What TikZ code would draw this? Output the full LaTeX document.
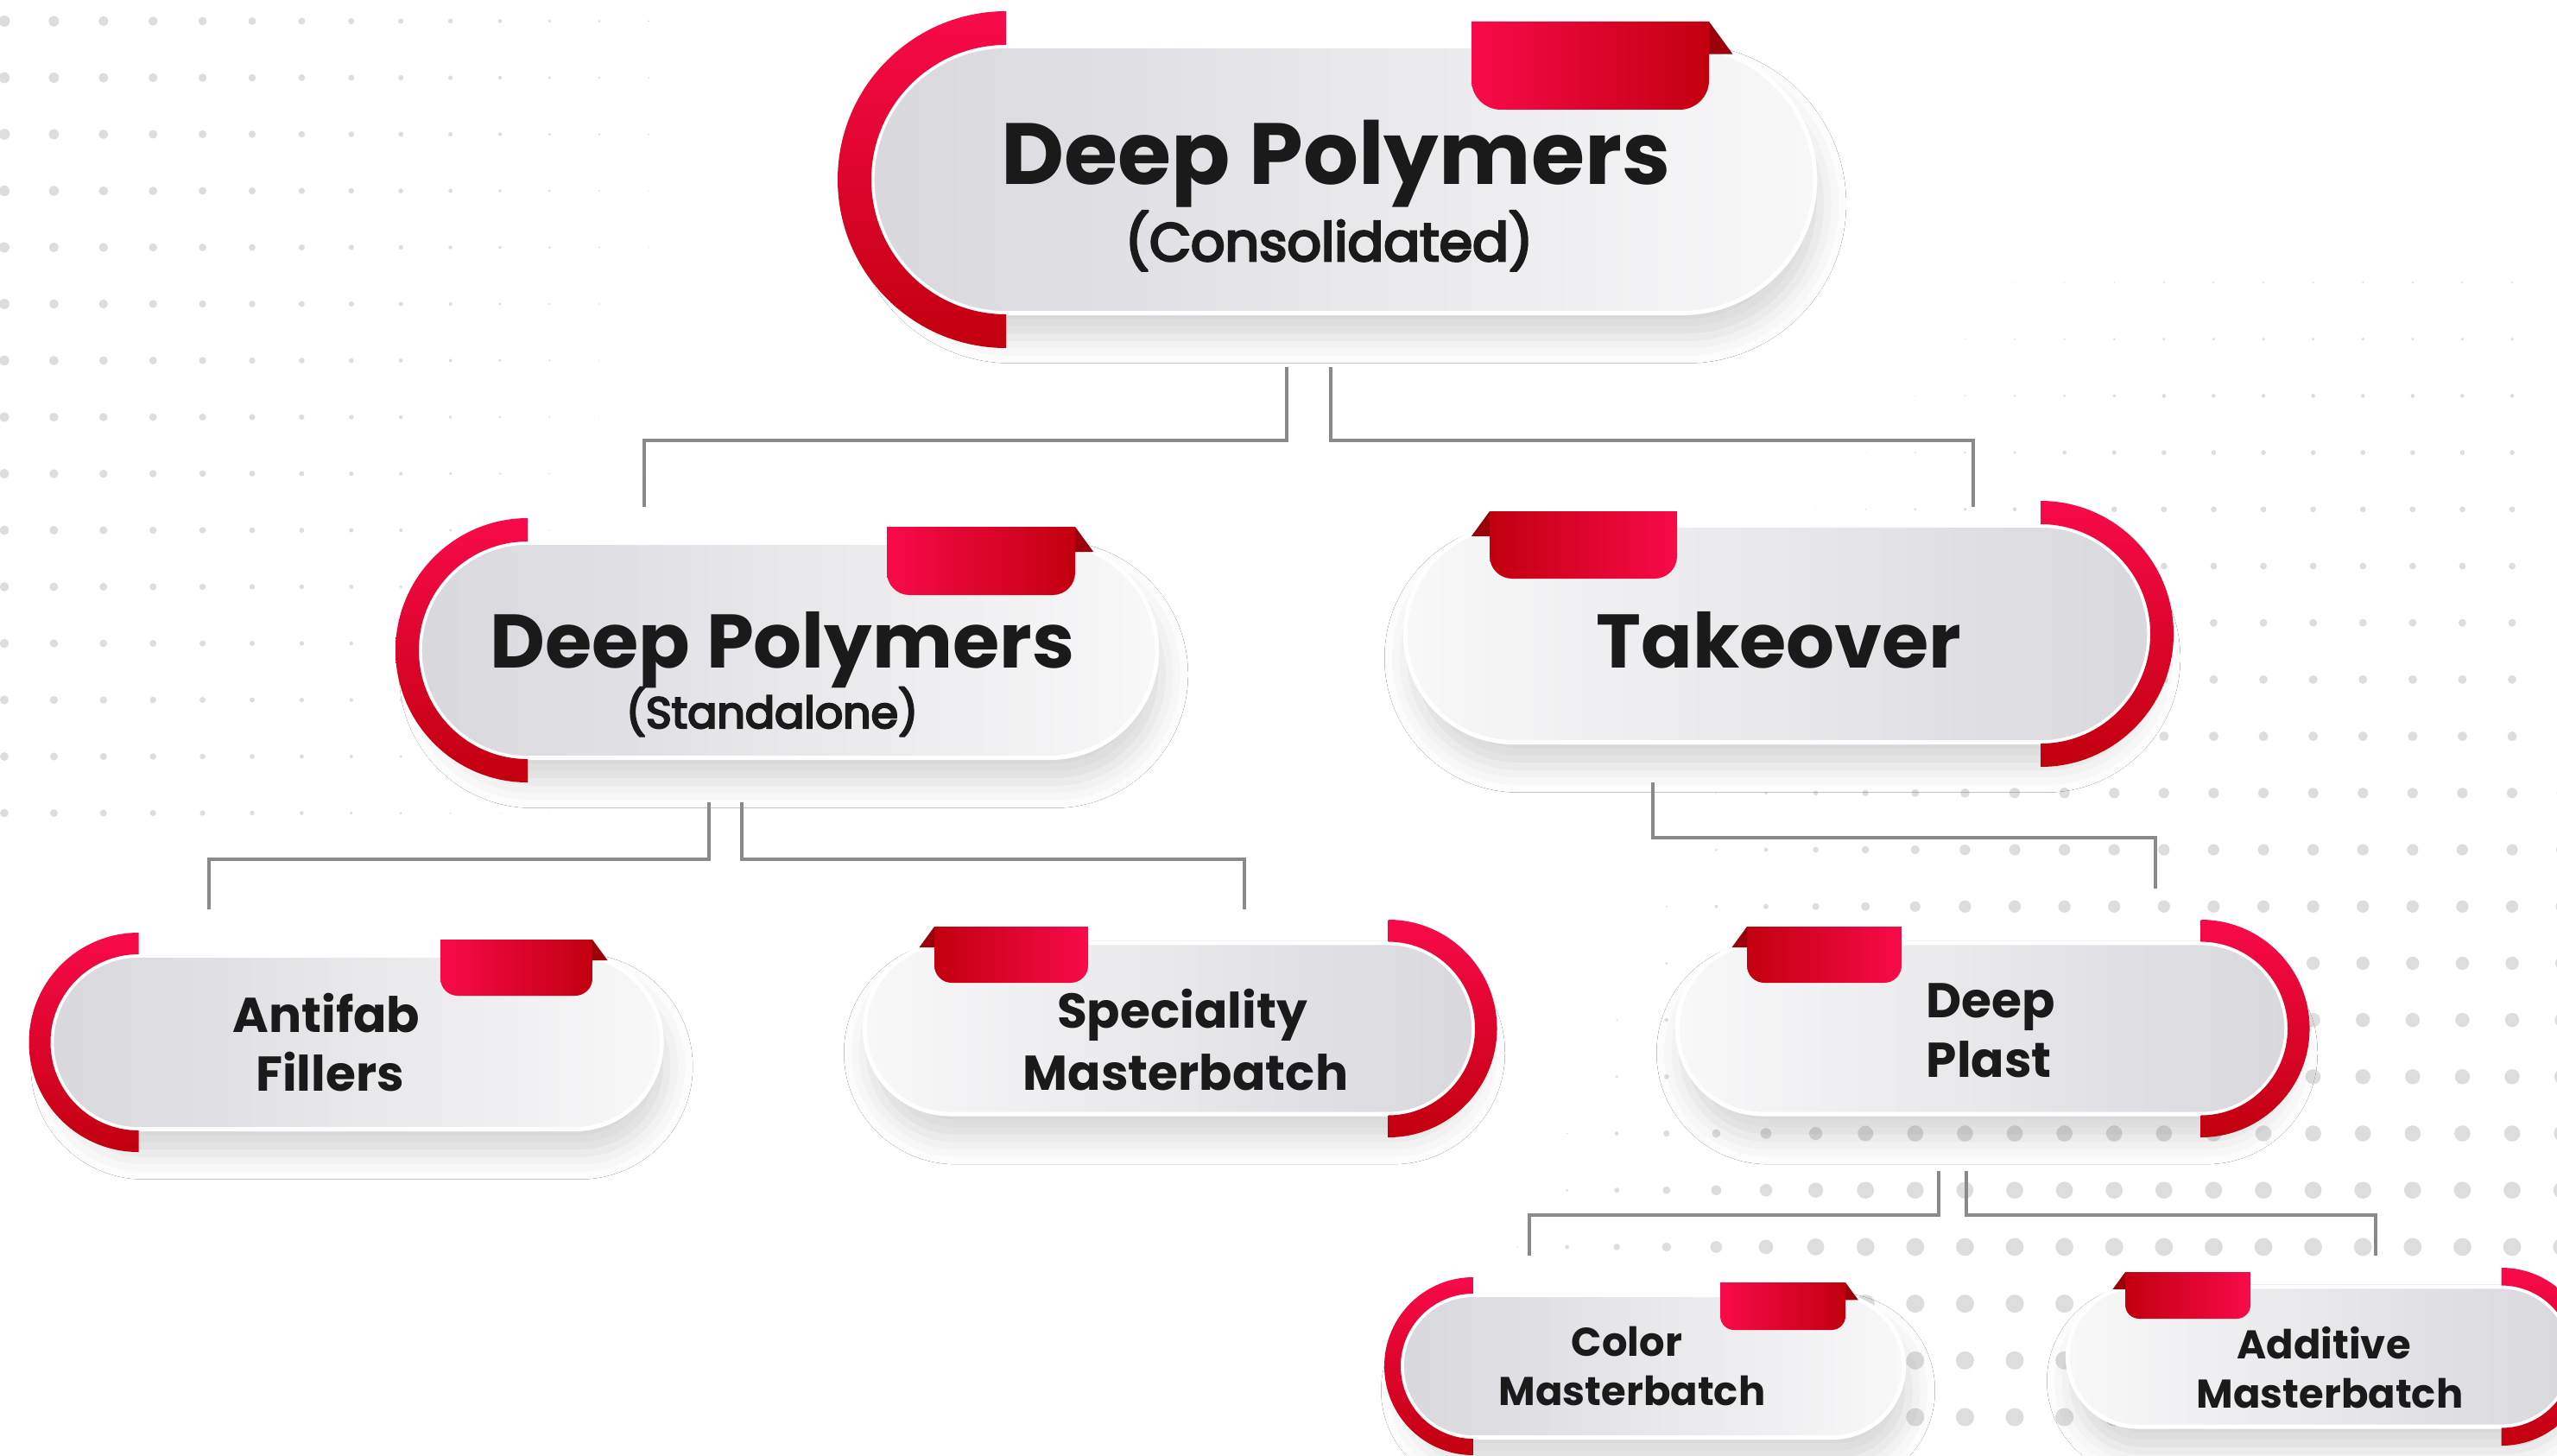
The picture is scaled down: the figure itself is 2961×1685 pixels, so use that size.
\documentclass[tikz,border=0pt]{standalone}
\usepackage{fontspec}
\setmainfont{Poppins}
\newfontfamily\popmed{Poppins}[FakeBold=4.5]
\usetikzlibrary{calc,shapes.misc,shadows.blur}

\definecolor{redhi}{HTML}{F80A4A}
\definecolor{redlo}{HTML}{C2000F}
\definecolor{redfold}{HTML}{9C000B}
\definecolor{pillhi}{HTML}{F8F8F9}
\definecolor{pilllo}{HTML}{D8D8DD}
\definecolor{linkgray}{HTML}{8A8A8A}
\definecolor{dotgray}{HTML}{DDDDDD}
\definecolor{ink}{HTML}{1A1A1A}

% red half ring beside a pill: node, arc centre offset, inner radius, outer radius
\newcommand{\ringleft}[4]{%
  \shade[ring] ($(#1.center)+(-#2,#4)$) arc[start angle=90,end angle=270,radius=#4]
    -- ($(#1.center)+(-#2,-#3)$) arc[start angle=270,end angle=90,radius=#3] -- cycle;}
\newcommand{\ringright}[4]{%
  \shade[ring] ($(#1.center)+(#2,#4)$) arc[start angle=90,end angle=-90,radius=#4]
    -- ($(#1.center)+(#2,-#3)$) arc[start angle=-90,end angle=90,radius=#3] -- cycle;}
% red tab on top of a pill: node, x1, x2, top, bottom, corner
\newcommand{\tabright}[6]{%
  \shade[left color=redhi,right color=redlo] ($(#1.center)+(#2,#4)$) -- ($(#1.center)+(#2,{#5+#6})$)
    arc[start angle=180,end angle=270,radius=#6] -- ($(#1.center)+({#3-#6},#5)$)
    arc[start angle=270,end angle=360,radius=#6] -- ($(#1.center)+(#3,#4)$) -- cycle;
  \fill[redfold] ($(#1.center)+(#3,#4)$) -- ++({0.27*(#4-#5)},{-0.37*(#4-#5)}) -- ++({-0.27*(#4-#5)},0) -- cycle;}
\newcommand{\tableft}[6]{%
  \shade[left color=redlo,right color=redhi] ($(#1.center)+(#2,#4)$) -- ($(#1.center)+(#2,{#5+#6})$)
    arc[start angle=180,end angle=270,radius=#6] -- ($(#1.center)+({#3-#6},#5)$)
    arc[start angle=270,end angle=360,radius=#6] -- ($(#1.center)+(#3,#4)$) -- cycle;
  \fill[redfold] ($(#1.center)+(#2,#4)$) -- ++({-0.27*(#4-#5)},{-0.37*(#4-#5)}) -- ++({0.27*(#4-#5)},0) -- cycle;}

\begin{document}
\begin{tikzpicture}[x=0.01cm,y=0.01cm,
  pill/.style={rounded rectangle, draw=white, line width=1.4pt, inner sep=0pt, outer sep=0pt,
    blur shadow={shadow xshift=0.06cm, shadow yshift=-0.28cm, shadow blur radius=0.3cm, shadow opacity=16}},
  ringl/.style={left color=pilllo, right color=pillhi},
  ringr/.style={left color=pillhi, right color=pilllo},
  ring/.style={top color=redhi, bottom color=redlo},
  link/.style={draw=linkgray, line width=1.1pt},
  dot/.style={fill=dotgray},
  txt/.style={text=ink, inner sep=0pt, anchor=base},
  big/.style={txt, font=\bfseries\fontsize{28.6pt}{31pt}\selectfont},
  bigsub/.style={txt, font=\popmed\fontsize{17.6pt}{20pt}\selectfont},
  mid/.style={txt, font=\bfseries\fontsize{25pt}{27pt}\selectfont},
  midsub/.style={txt, font=\popmed\fontsize{14.4pt}{16pt}\selectfont},
  lab/.style={txt, font=\bfseries\fontsize{16.1pt}{18pt}\selectfont},
  labsm/.style={txt, font=\bfseries\fontsize{13.2pt}{15pt}\selectfont}]

\useasboundingbox (0,0) rectangle (2961,-1685);
\clip (0,0) rectangle (2961,-1685);
\fill[white] (0,0) rectangle (2961,-1685);

% dotted background
\foreach \i in {0,...,13}
  \foreach \j in {0,...,14}{
    \pgfmathsetmacro{\rr}{max(0.4,6.5-0.42*\i-0.12*\j)}
    \fill[dot] ({5+57.4*\i},{-24.5-65.5*\j}) circle[radius=\rr];
  }
\foreach \k in {-1,...,22}
  \foreach \m in {0,...,20}{
    \pgfmathsetmacro{\px}{2909-57.6*\k}
    \pgfmathsetmacro{\py}{65.7*\m}
    \pgfmathsetmacro{\rr}{min(10.5,1.2+0.0082*\py)*min(1,max(0,(\px-2150+0.3805*\py)/400))}
    \fill[dot] (\px,{-327-\py}) circle[radius=\rr];
  }

% boxes
\node[pill, ringl, minimum width=10.91cm, minimum height=3.09cm] (top) at (1556,-208) {};
\node[pill, ringl, minimum width=8.53cm, minimum height=2.49cm] (sa) at (913,-753) {};
\node[pill, ringr, minimum width=8.61cm, minimum height=2.51cm] (tk) at (2058,-734) {};
\node[pill, ringl, minimum width=7.06cm, minimum height=2.01cm] (af) at (413,-1207) {};
\node[pill, ringr, minimum width=7.05cm, minimum height=1.98cm] (sp) at (1354,-1191) {};
\node[pill, ringr, minimum width=7.05cm, minimum height=1.98cm] (dp) at (2295,-1191) {};
\node[pill, ringl, minimum width=5.81cm, minimum height=1.65cm] (cm) at (1914,-1582) {};
\node[pill, ringr, minimum width=5.83cm, minimum height=1.62cm] (am) at (2686,-1571) {};

% connectors
\draw[link] ($(top.south)+(-66,-62.5)$) -- ++(0,-85) -| ($(sa.north)+(-167,41.5)$);
\draw[link] ($(top.south)+(-15,-62.5)$) -- ++(0,-85) -| ($(tk.north)+(227,21.5)$);
\draw[link] ($(sa.south)+(-92,-51.5)$) -- ++(0,-66) -| ($(af.north)+(-171,53.5)$);
\draw[link] ($(sa.south)+(-54,-51.5)$) -- ++(0,-66) -| ($(sp.north)+(87,39)$);
\draw[link] ($(tk.south)+(-144,-46.5)$) -- ++(0,-64) -| ($(dp.north)+(201,63)$);
\draw[link] ($(dp.south)+(-50,-66)$) -- ++(0,-51) -| ($(cm.north)+(-143,45.5)$);
\draw[link] ($(dp.south)+(-18,-66)$) -- ++(0,-51) -| ($(am.north)+(65,36)$);

% rings and tabs
\ringleft{top}{391}{156}{195}
\tabright{top}{148}{423}{183}{81}{34}
\ringleft{sa}{302}{126}{153}
\tabright{sa}{114}{332}{143}{64}{26}
\ringright{tk}{305}{127}{154}
\tableft{tk}{-333}{-116}{142}{64}{26}
\ringleft{af}{252.5}{102}{127}
\tabright{af}{97}{273}{119}{54}{20}
\ringright{sp}{253.5}{100.5}{126}
\tableft{sp}{-272}{-94}{118}{53}{20}
\ringright{dp}{253.5}{100.5}{126}
\tableft{dp}{-272}{-93}{118}{53}{20}
\ringleft{cm}{208}{84}{103}
\tabright{cm}{78}{223}{97}{42}{16}
\ringright{am}{210.5}{82.5}{103}
\tableft{am}{-225}{-80}{98}{44}{16}

% texts
\node[big] (topa) at (1547,-213) {Deep Polymers};
\node[bigsub] (topb) at (1539,-302) {(Consolidated)};
\node[mid] (saa) at (906,-773) {Deep Polymers};
\node[midsub] (sab) at (894,-843) {(Standalone)};
\node[mid] (tka) at (2060,-773) {Takeover};
\node[lab] (afa) at (378,-1195) {Antifab};
\node[lab] (afb) at (382,-1263) {Fillers};
\node[lab] (spa) at (1369,-1190) {Speciality};
\node[lab] (spb) at (1373,-1262) {Masterbatch};
\node[lab, anchor=base west] (dpa) at (2230,-1178) {Deep};
\node[lab, anchor=base west] (dpb) at (2230,-1247) {Plast};
\node[labsm] (cma) at (1884,-1570) {Color};
\node[labsm] (cmb) at (1890,-1627) {Masterbatch};
\node[labsm] (ama) at (2691,-1573) {Additive};
\node[labsm] (amb) at (2698,-1630) {Masterbatch};
\end{tikzpicture}
\end{document}
